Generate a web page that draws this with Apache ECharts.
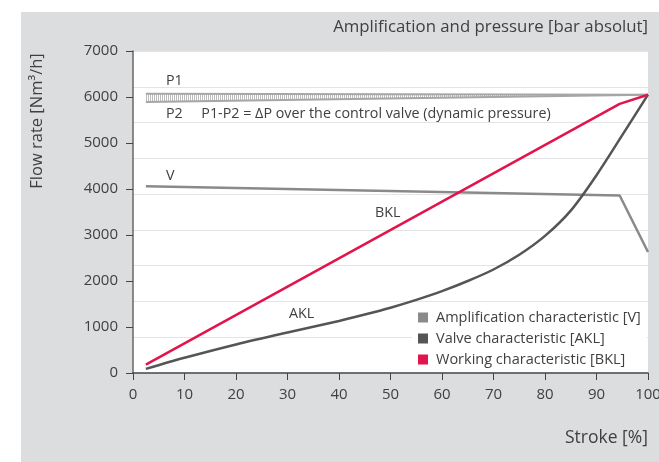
<!DOCTYPE html>
<html>
<head>
<meta charset="utf-8">
<script src="https://cdn.jsdelivr.net/npm/echarts@6/dist/echarts.min.js"></script>
<style>
  html, body { margin: 0; padding: 0; background: #fff; }
  #chart { width: 659px; height: 462px; }
</style>
</head>
<body>
<div id="chart"></div>
<script>
// stroke [%] / flow rate [Nm3/h]
var strokeTicks = [0, 10, 20, 30, 40, 50, 60, 70, 80, 90, 100];
var flowTicks = [0, 1000, 2000, 3000, 4000, 5000, 6000, 7000];

var ampV = [[2.5, 4060], [94.5, 3860], [100, 2630]];
var valveAKL = [
  [2.5, 90], [10, 330], [20, 620], [30, 880], [40, 1130], [45, 1270],
  [50, 1420], [55, 1590], [60, 1780], [65, 2000], [70, 2250], [75, 2570],
  [80, 2980], [85, 3530], [90, 4300], [95, 5170], [100, 6050]
];
var workBKL = [[2.5, 180], [94.5, 5850], [100, 6050]];
var p1 = [[2.5, 6070], [100, 6050]];
var p2 = [[2.5, 5890], [100, 6050]];

var FONT = 'Open Sans';
var TXT = '#404040';

// vertical hatch used between P1 and P2
function hatch() {
  var c = document.createElement('canvas');
  c.width = 2; c.height = 4;
  var g = c.getContext('2d');
  g.fillStyle = '#ffffff';
  g.fillRect(0, 0, 2, 4);
  g.fillStyle = '#bdbdbd';
  g.fillRect(0, 0, 1, 4);
  return c;
}

var chart = echarts.init(document.getElementById('chart'));
chart.setOption({
  animation: false,
  textStyle: {fontFamily: FONT},
  graphic: [
    {type: 'rect', z: -10, silent: true,
      shape: {x: 21, y: 12, width: 638, height: 450},
      style: {fill: '#dcdddf'}},
    {type: 'text', right: 11, top: 19, z: 10,
      style: {text: 'Amplification and pressure [bar absolut]', fill: TXT,
        font: '16.8px "' + FONT + '"'}},
    {type: 'text', right: 11, top: 429, z: 10,
      style: {text: 'Stroke [%]', fill: TXT, font: '17.5px "' + FONT + '"'}},
    {type: 'text', x: 37, y: 121, rotation: Math.PI / 2, z: 10,
      style: {text: 'Flow rate [Nm³/h]', fill: TXT, font: '16.5px "' + FONT + '"',
        textAlign: 'center', textVerticalAlign: 'middle'}},
    {type: 'text', x: 166, y: 74, z: 10,
      style: {text: 'P1', fill: TXT, font: '14.3px "' + FONT + '"'}},
    {type: 'text', x: 166, y: 107, z: 10,
      style: {text: 'P2     P1-P2 = ΔP over the control valve (dynamic pressure)',
        fill: TXT, font: '14.3px "' + FONT + '"'}},
    {type: 'text', x: 166, y: 169, z: 10,
      style: {text: 'V', fill: TXT, font: '14.3px "' + FONT + '"'}},
    {type: 'text', x: 375, y: 206, z: 10,
      style: {text: 'BKL', fill: TXT, font: '14.3px "' + FONT + '"'}},
    {type: 'text', x: 289, y: 307, z: 10,
      style: {text: 'AKL', fill: TXT, font: '14.3px "' + FONT + '"'}}
  ],
  grid: {left: 133, right: 11, top: 51, bottom: 89, show: true,
    outerBoundsMode: 'none', containLabel: false,
    backgroundColor: '#ffffff', borderWidth: 0},
  legend: {
    orient: 'vertical', left: 412, top: 307, itemGap: 6,
    itemWidth: 10, itemHeight: 10, icon: 'rect',
    backgroundColor: '#ffffff', padding: [3, 6, 2, 6],
    textStyle: {color: TXT, fontSize: 14.5, lineHeight: 15, fontFamily: FONT,
      padding: [0, 0, 0, 3]},
    data: ['Amplification characteristic [V]', 'Valve characteristic [AKL]',
      'Working characteristic [BKL]']
  },
  xAxis: {
    type: 'value', min: 0, max: 100, interval: 10, z: 5,
    axisLine: {lineStyle: {color: '#444', width: 1.5}},
    axisTick: {length: 7, lineStyle: {color: '#444'}},
    axisLabel: {color: TXT, fontSize: 15, margin: 14,
      formatter: function(v) { return strokeTicks.indexOf(v) >= 0 ? v : ''; }},
    splitLine: {show: false}
  },
  yAxis: [{
    type: 'value', min: 0, max: 7000, interval: 1000,
    axisLine: {show: true, lineStyle: {color: '#666', width: 1.5}},
    axisTick: {show: true, length: 7, lineStyle: {color: '#444'}},
    axisLabel: {color: TXT, fontSize: 15, margin: 15,
      formatter: function(v) { return flowTicks.indexOf(v) >= 0 ? v : ''; }},
    splitLine: {show: false}
  }, {
    // pressure axis: only its gridlines are drawn
    type: 'value', min: 0, max: 9, interval: 1, position: 'right',
    axisLine: {show: false}, axisTick: {show: false}, axisLabel: {show: false},
    splitLine: {show: true, lineStyle: {color: '#e4e4e4', width: 1}}
  }],
  series: [{
    type: 'custom', name: 'dp', silent: true, z: 1,
    data: [0],
    renderItem: function(params, api) {
      var pts = p1.map(function(d) { return api.coord(d); });
      p2.slice().reverse().forEach(function(d) { pts.push(api.coord(d)); });
      return {type: 'polygon', shape: {points: pts},
        style: {fill: {image: hatch(), repeat: 'repeat'}}};
    }
  }, {
    type: 'line', name: 'P1', data: p1, symbol: 'none', z: 2,
    lineStyle: {color: '#a6a6a6', width: 2}
  }, {
    type: 'line', name: 'P2', data: p2, symbol: 'none', z: 2,
    lineStyle: {color: '#a6a6a6', width: 2}
  }, {
    type: 'line', name: 'Amplification characteristic [V]', data: ampV,
    symbol: 'none', itemStyle: {color: '#8a8a8a'},
    lineStyle: {color: '#8a8a8a', width: 2.5}
  }, {
    type: 'line', name: 'Valve characteristic [AKL]', data: valveAKL,
    symbol: 'none', smooth: 0.3, itemStyle: {color: '#555555'},
    lineStyle: {color: '#555555', width: 2.5}
  }, {
    type: 'line', name: 'Working characteristic [BKL]', data: workBKL,
    symbol: 'none', itemStyle: {color: '#e2144c'},
    lineStyle: {color: '#e2144c', width: 2.5}
  }]
});
</script>
</body>
</html>
